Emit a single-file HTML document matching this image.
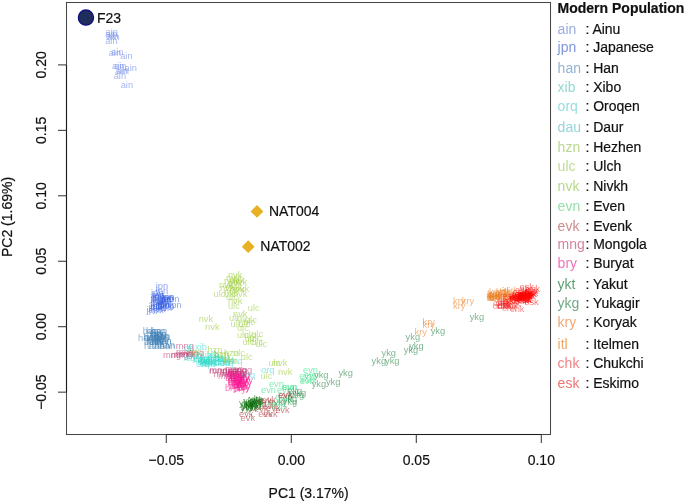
<!DOCTYPE html><html><head><meta charset="utf-8"><style>
html,body{margin:0;padding:0;background:#fff;width:685px;height:503px;overflow:hidden}
svg{display:block;filter:blur(0.35px);font-family:"Liberation Sans",sans-serif;fill:#111}
.t{font-size:14.00px;stroke:#111;stroke-width:0.2px}
.p{font-size:9.3px}
</style></head><body>
<svg width="685" height="503" viewBox="0 0 685 503">
<g class="p">
<text x="105.6" y="35.0" fill="rgba(100,130,232,0.58)">ain</text>
<text x="105.2" y="36.8" fill="rgba(100,130,232,0.58)">ain</text>
<text x="106.0" y="39.2" fill="rgba(100,130,232,0.58)">ain</text>
<text x="107.2" y="39.6" fill="rgba(100,130,232,0.58)">ain</text>
<text x="105.2" y="44.1" fill="rgba(100,130,232,0.58)">ain</text>
<text x="108.7" y="55.6" fill="rgba(100,130,232,0.58)">ain</text>
<text x="111.0" y="55.4" fill="rgba(100,130,232,0.58)">ain</text>
<text x="120.2" y="59.4" fill="rgba(100,130,232,0.58)">ain</text>
<text x="112.0" y="69.1" fill="rgba(100,130,232,0.58)">ain</text>
<text x="114.0" y="69.3" fill="rgba(100,130,232,0.58)">ain</text>
<text x="124.5" y="70.9" fill="rgba(100,130,232,0.58)">ain</text>
<text x="115.1" y="74.0" fill="rgba(100,130,232,0.58)">ain</text>
<text x="116.5" y="73.7" fill="rgba(100,130,232,0.58)">ain</text>
<text x="113.7" y="79.2" fill="rgba(100,130,232,0.58)">ain</text>
<text x="120.7" y="87.6" fill="rgba(100,130,232,0.58)">ain</text>
<text x="155.7" y="288.7" fill="rgba(55,95,225,0.58)">jpn</text>
<text x="155.7" y="293.9" fill="rgba(55,95,225,0.58)">jpn</text>
<text x="151.0" y="295.9" fill="rgba(55,95,225,0.58)">jpn</text>
<text x="151.7" y="298.3" fill="rgba(55,95,225,0.58)">jpn</text>
<text x="150.6" y="301.0" fill="rgba(55,95,225,0.58)">jpn</text>
<text x="152.5" y="299.9" fill="rgba(55,95,225,0.58)">jpn</text>
<text x="162.1" y="299.9" fill="rgba(55,95,225,0.58)">jpn</text>
<text x="166.9" y="302.3" fill="rgba(55,95,225,0.58)">jpn</text>
<text x="169.2" y="308.2" fill="rgba(55,95,225,0.58)">jpn</text>
<text x="151.0" y="305.0" fill="rgba(55,95,225,0.58)">jpn</text>
<text x="157.3" y="306.6" fill="rgba(55,95,225,0.58)">jpn</text>
<text x="150.2" y="307.4" fill="rgba(55,95,225,0.58)">jpn</text>
<text x="146.6" y="313.0" fill="rgba(55,95,225,0.58)">jpn</text>
<text x="153.3" y="312.2" fill="rgba(55,95,225,0.58)">jpn</text>
<text x="159.7" y="310.6" fill="rgba(55,95,225,0.58)">jpn</text>
<text x="162.1" y="308.6" fill="rgba(55,95,225,0.58)">jpn</text>
<text x="158.9" y="303.4" fill="rgba(55,95,225,0.58)">jpn</text>
<text x="154.1" y="304.2" fill="rgba(55,95,225,0.58)">jpn</text>
<text x="156.0" y="301.5" fill="rgba(55,95,225,0.58)">jpn</text>
<text x="160.5" y="305.5" fill="rgba(55,95,225,0.58)">jpn</text>
<text x="148.5" y="310.0" fill="rgba(55,95,225,0.58)">jpn</text>
<text x="155.5" y="309.0" fill="rgba(55,95,225,0.58)">jpn</text>
<text x="142.7" y="333.9" fill="rgba(60,125,180,0.58)">han</text>
<text x="146.0" y="333.7" fill="rgba(60,125,180,0.58)">han</text>
<text x="150.5" y="334.2" fill="rgba(60,125,180,0.58)">han</text>
<text x="151.7" y="334.0" fill="rgba(60,125,180,0.58)">han</text>
<text x="138.0" y="340.8" fill="rgba(60,125,180,0.58)">han</text>
<text x="143.3" y="340.2" fill="rgba(60,125,180,0.58)">han</text>
<text x="150.0" y="339.7" fill="rgba(60,125,180,0.58)">han</text>
<text x="154.5" y="340.4" fill="rgba(60,125,180,0.58)">han</text>
<text x="154.7" y="339.0" fill="rgba(60,125,180,0.58)">han</text>
<text x="143.9" y="344.7" fill="rgba(60,125,180,0.58)">han</text>
<text x="148.0" y="344.2" fill="rgba(60,125,180,0.58)">han</text>
<text x="152.0" y="345.2" fill="rgba(60,125,180,0.58)">han</text>
<text x="156.0" y="344.4" fill="rgba(60,125,180,0.58)">han</text>
<text x="147.5" y="342.2" fill="rgba(60,125,180,0.58)">han</text>
<text x="143.9" y="349.4" fill="rgba(60,125,180,0.58)">han</text>
<text x="148.7" y="349.2" fill="rgba(60,125,180,0.58)">han</text>
<text x="154.7" y="349.4" fill="rgba(60,125,180,0.58)">han</text>
<text x="160.0" y="348.8" fill="rgba(60,125,180,0.58)">han</text>
<text x="159.5" y="347.7" fill="rgba(60,125,180,0.58)">han</text>
<text x="151.0" y="337.2" fill="rgba(60,125,180,0.58)">han</text>
<text x="175.8" y="349.0" fill="rgba(185,45,105,0.58)">mng</text>
<text x="163.0" y="358.3" fill="rgba(185,45,105,0.58)">mng</text>
<text x="170.7" y="357.5" fill="rgba(185,45,105,0.58)">mng</text>
<text x="176.1" y="355.3" fill="rgba(185,45,105,0.58)">mng</text>
<text x="174.9" y="357.1" fill="rgba(185,45,105,0.58)">mng</text>
<text x="180.0" y="357.0" fill="rgba(185,45,105,0.58)">mng</text>
<text x="186.0" y="356.0" fill="rgba(185,45,105,0.58)">mng</text>
<text x="209.5" y="372.9" fill="rgba(185,45,105,0.58)">mng</text>
<text x="224.9" y="372.4" fill="rgba(185,45,105,0.58)">mng</text>
<text x="229.0" y="374.0" fill="rgba(185,45,105,0.58)">mng</text>
<text x="229.0" y="373.0" fill="rgba(185,45,105,0.58)">mng</text>
<text x="228.0" y="376.0" fill="rgba(185,45,105,0.58)">mng</text>
<text x="217.9" y="378.8" fill="rgba(185,45,105,0.58)">mng</text>
<text x="227.0" y="378.0" fill="rgba(185,45,105,0.58)">mng</text>
<text x="232.0" y="377.5" fill="rgba(185,45,105,0.58)">mng</text>
<text x="209.0" y="373.5" fill="rgba(185,45,105,0.58)">mng</text>
<text x="195.1" y="349.9" fill="rgba(50,218,200,0.58)">xib</text>
<text x="183.2" y="360.7" fill="rgba(50,218,200,0.58)">xib</text>
<text x="190.5" y="358.5" fill="rgba(50,218,200,0.58)">xib</text>
<text x="197.5" y="361.8" fill="rgba(45,215,200,0.58)">dau</text>
<text x="201.5" y="365.8" fill="rgba(45,215,200,0.58)">dau</text>
<text x="205.0" y="364.9" fill="rgba(45,215,200,0.58)">dau</text>
<text x="211.0" y="362.4" fill="rgba(45,215,200,0.58)">dau</text>
<text x="193.0" y="362.0" fill="rgba(45,215,200,0.58)">dau</text>
<text x="207.5" y="359.5" fill="rgba(45,215,200,0.58)">dau</text>
<text x="214.0" y="360.5" fill="rgba(45,215,200,0.58)">dau</text>
<text x="200.0" y="357.5" fill="rgba(50,218,200,0.58)">xib</text>
<text x="218.0" y="362.0" fill="rgba(45,215,200,0.58)">dau</text>
<text x="228.9" y="364.4" fill="rgba(55,212,225,0.58)">orq</text>
<text x="241.8" y="377.8" fill="rgba(55,212,225,0.58)">orq</text>
<text x="261.0" y="372.9" fill="rgba(55,212,225,0.58)">orq</text>
<text x="196.0" y="367.0" fill="rgba(55,212,225,0.58)">orq</text>
<text x="220.0" y="366.0" fill="rgba(55,212,225,0.58)">orq</text>
<text x="207.4" y="353.1" fill="rgba(150,200,50,0.58)">hzn</text>
<text x="213.4" y="357.1" fill="rgba(150,200,50,0.58)">hzn</text>
<text x="214.4" y="358.4" fill="rgba(150,200,50,0.58)">hzn</text>
<text x="188.0" y="355.3" fill="rgba(150,200,50,0.58)">hzn</text>
<text x="223.9" y="355.5" fill="rgba(150,200,50,0.58)">hzn</text>
<text x="222.9" y="363.9" fill="rgba(150,200,50,0.58)">hzn</text>
<text x="222.9" y="363.4" fill="rgba(154,205,60,0.58)">ulc</text>
<text x="240.8" y="360.0" fill="rgba(154,205,60,0.58)">ulc</text>
<text x="233.0" y="355.7" fill="rgba(154,205,60,0.58)">ulc</text>
<text x="227.9" y="277.9" fill="rgba(150,200,45,0.58)">nvk</text>
<text x="225.9" y="281.4" fill="rgba(150,200,45,0.58)">nvk</text>
<text x="229.9" y="283.4" fill="rgba(150,200,45,0.58)">nvk</text>
<text x="218.9" y="287.9" fill="rgba(150,200,45,0.58)">nvk</text>
<text x="227.9" y="286.4" fill="rgba(150,200,45,0.58)">nvk</text>
<text x="232.9" y="284.9" fill="rgba(150,200,45,0.58)">nvk</text>
<text x="219.9" y="290.8" fill="rgba(150,200,45,0.58)">nvk</text>
<text x="234.8" y="292.3" fill="rgba(150,200,45,0.58)">nvk</text>
<text x="223.9" y="295.3" fill="rgba(150,200,45,0.58)">nvk</text>
<text x="232.9" y="297.3" fill="rgba(150,200,45,0.58)">nvk</text>
<text x="227.9" y="304.3" fill="rgba(150,200,45,0.58)">nvk</text>
<text x="226.0" y="289.5" fill="rgba(150,200,45,0.58)">nvk</text>
<text x="230.0" y="292.0" fill="rgba(150,200,45,0.58)">nvk</text>
<text x="224.0" y="284.0" fill="rgba(150,200,45,0.58)">nvk</text>
<text x="213.5" y="297.3" fill="rgba(154,205,60,0.58)">ulc</text>
<text x="223.9" y="297.0" fill="rgba(154,205,60,0.58)">ulc</text>
<text x="225.9" y="299.8" fill="rgba(154,205,60,0.58)">ulc</text>
<text x="227.9" y="308.7" fill="rgba(154,205,60,0.58)">ulc</text>
<text x="247.8" y="311.2" fill="rgba(154,205,60,0.58)">ulc</text>
<text x="198.7" y="321.7" fill="rgba(150,200,45,0.58)">nvk</text>
<text x="205.1" y="330.0" fill="rgba(150,200,45,0.58)">nvk</text>
<text x="233.0" y="316.8" fill="rgba(150,200,45,0.58)">nvk</text>
<text x="229.0" y="321.1" fill="rgba(154,205,60,0.58)">ulc</text>
<text x="236.9" y="321.9" fill="rgba(154,205,60,0.58)">ulc</text>
<text x="244.9" y="322.7" fill="rgba(154,205,60,0.58)">ulc</text>
<text x="230.6" y="326.7" fill="rgba(154,205,60,0.58)">ulc</text>
<text x="238.5" y="326.7" fill="rgba(154,205,60,0.58)">ulc</text>
<text x="243.3" y="325.1" fill="rgba(154,205,60,0.58)">ulc</text>
<text x="236.9" y="330.7" fill="rgba(154,205,60,0.58)">ulc</text>
<text x="236.9" y="337.8" fill="rgba(154,205,60,0.58)">ulc</text>
<text x="243.7" y="337.8" fill="rgba(154,205,60,0.58)">ulc</text>
<text x="251.2" y="336.6" fill="rgba(154,205,60,0.58)">ulc</text>
<text x="244.5" y="341.8" fill="rgba(154,205,60,0.58)">ulc</text>
<text x="249.6" y="341.4" fill="rgba(154,205,60,0.58)">ulc</text>
<text x="242.5" y="345.0" fill="rgba(154,205,60,0.58)">ulc</text>
<text x="251.2" y="345.0" fill="rgba(154,205,60,0.58)">ulc</text>
<text x="255.2" y="346.6" fill="rgba(154,205,60,0.58)">ulc</text>
<text x="268.4" y="365.9" fill="rgba(154,205,60,0.58)">ulc</text>
<text x="272.9" y="365.9" fill="rgba(150,200,45,0.58)">nvk</text>
<text x="277.9" y="375.4" fill="rgba(150,200,45,0.58)">nvk</text>
<text x="260.5" y="379.4" fill="rgba(154,205,60,0.58)">ulc</text>
<text x="224.9" y="391.3" fill="rgba(250,20,145,0.58)">bry</text>
<text x="227.9" y="382.8" fill="rgba(250,20,145,0.58)">bry</text>
<text x="231.0" y="386.0" fill="rgba(250,20,145,0.58)">bry</text>
<text x="234.0" y="384.5" fill="rgba(250,20,145,0.58)">bry</text>
<text x="236.0" y="388.0" fill="rgba(250,20,145,0.58)">bry</text>
<text x="239.0" y="386.0" fill="rgba(250,20,145,0.58)">bry</text>
<text x="229.0" y="389.0" fill="rgba(250,20,145,0.58)">bry</text>
<text x="233.0" y="392.0" fill="rgba(250,20,145,0.58)">bry</text>
<text x="240.0" y="383.0" fill="rgba(250,20,145,0.58)">bry</text>
<text x="237.5" y="389.5" fill="rgba(250,20,145,0.58)">bry</text>
<text x="237.0" y="380.0" fill="rgba(250,20,145,0.58)">bry</text>
<text x="230.5" y="380.5" fill="rgba(250,20,145,0.58)">bry</text>
<text x="268.9" y="387.3" fill="rgba(40,220,125,0.58)">evn</text>
<text x="281.8" y="389.8" fill="rgba(40,220,125,0.58)">evn</text>
<text x="261.0" y="393.3" fill="rgba(40,220,125,0.58)">evn</text>
<text x="276.9" y="393.3" fill="rgba(40,220,125,0.58)">evn</text>
<text x="282.6" y="390.0" fill="rgba(40,220,125,0.58)">evn</text>
<text x="303.0" y="373.3" fill="rgba(40,220,125,0.58)">evn</text>
<text x="299.2" y="379.3" fill="rgba(40,220,125,0.58)">evn</text>
<text x="299.7" y="384.2" fill="rgba(40,220,125,0.58)">evn</text>
<text x="301.0" y="382.5" fill="rgba(40,220,125,0.58)">evn</text>
<text x="303.9" y="377.8" fill="rgba(40,220,125,0.58)">evn</text>
<text x="275.0" y="400.0" fill="rgba(40,220,125,0.58)">evn</text>
<text x="278.0" y="403.0" fill="rgba(40,220,125,0.58)">evn</text>
<text x="239.0" y="406.0" fill="rgba(0,105,0,0.58)">ykt</text>
<text x="241.4" y="408.5" fill="rgba(0,105,0,0.58)">ykt</text>
<text x="244.6" y="405.7" fill="rgba(0,105,0,0.58)">ykt</text>
<text x="248.7" y="405.3" fill="rgba(0,105,0,0.58)">ykt</text>
<text x="250.3" y="409.3" fill="rgba(0,105,0,0.58)">ykt</text>
<text x="243.0" y="403.5" fill="rgba(0,105,0,0.58)">ykt</text>
<text x="246.5" y="407.5" fill="rgba(0,105,0,0.58)">ykt</text>
<text x="252.0" y="404.0" fill="rgba(0,105,0,0.58)">ykt</text>
<text x="240.5" y="411.0" fill="rgba(0,105,0,0.58)">ykt</text>
<text x="245.0" y="410.5" fill="rgba(0,105,0,0.58)">ykt</text>
<text x="249.0" y="402.0" fill="rgba(0,105,0,0.58)">ykt</text>
<text x="255.0" y="407.0" fill="rgba(0,105,0,0.58)">ykt</text>
<text x="257.5" y="404.0" fill="rgba(170,50,55,0.58)">evk</text>
<text x="261.5" y="402.9" fill="rgba(170,50,55,0.58)">evk</text>
<text x="268.7" y="404.5" fill="rgba(170,50,55,0.58)">evk</text>
<text x="275.2" y="412.9" fill="rgba(170,50,55,0.58)">evk</text>
<text x="258.3" y="417.3" fill="rgba(170,50,55,0.58)">evk</text>
<text x="240.6" y="420.5" fill="rgba(170,50,55,0.58)">evk</text>
<text x="239.0" y="417.3" fill="rgba(170,50,55,0.58)">evk</text>
<text x="263.1" y="416.5" fill="rgba(170,50,55,0.58)">evk</text>
<text x="278.4" y="398.0" fill="rgba(170,50,55,0.58)">evk</text>
<text x="277.9" y="397.7" fill="rgba(170,50,55,0.58)">evk</text>
<text x="262.0" y="409.0" fill="rgba(170,50,55,0.58)">evk</text>
<text x="266.0" y="411.0" fill="rgba(170,50,55,0.58)">evk</text>
<text x="254.0" y="412.0" fill="rgba(170,50,55,0.58)">evk</text>
<text x="287.8" y="393.8" fill="rgba(30,125,60,0.58)">ykg</text>
<text x="291.8" y="396.3" fill="rgba(30,125,60,0.58)">ykg</text>
<text x="282.8" y="401.7" fill="rgba(30,125,60,0.58)">ykg</text>
<text x="289.6" y="398.1" fill="rgba(30,125,60,0.58)">ykg</text>
<text x="282.6" y="404.5" fill="rgba(30,125,60,0.58)">ykg</text>
<text x="314.0" y="377.8" fill="rgba(30,125,60,0.58)">ykg</text>
<text x="338.4" y="375.9" fill="rgba(30,125,60,0.58)">ykg</text>
<text x="311.7" y="387.0" fill="rgba(30,125,60,0.58)">ykg</text>
<text x="325.9" y="385.0" fill="rgba(30,125,60,0.58)">ykg</text>
<text x="371.6" y="364.1" fill="rgba(30,125,60,0.58)">ykg</text>
<text x="385.0" y="364.1" fill="rgba(30,125,60,0.58)">ykg</text>
<text x="381.5" y="356.0" fill="rgba(30,125,60,0.58)">ykg</text>
<text x="403.8" y="352.5" fill="rgba(30,125,60,0.58)">ykg</text>
<text x="409.2" y="348.9" fill="rgba(30,125,60,0.58)">ykg</text>
<text x="405.6" y="340.0" fill="rgba(30,125,60,0.58)">ykg</text>
<text x="430.7" y="333.7" fill="rgba(30,125,60,0.58)">ykg</text>
<text x="469.7" y="320.0" fill="rgba(30,125,60,0.58)">ykg</text>
<text x="422.6" y="325.0" fill="rgba(238,125,35,0.58)">kry</text>
<text x="422.6" y="327.7" fill="rgba(238,125,35,0.58)">kry</text>
<text x="414.6" y="334.9" fill="rgba(238,125,35,0.58)">kry</text>
<text x="453.0" y="304.3" fill="rgba(238,125,35,0.58)">kry</text>
<text x="461.8" y="304.3" fill="rgba(238,125,35,0.58)">kry</text>
<text x="453.0" y="308.7" fill="rgba(238,125,35,0.58)">kry</text>
<text x="494.6" y="298.9" fill="rgba(238,125,35,0.58)">kry</text>
<text x="503.6" y="298.3" fill="rgba(238,125,35,0.58)">kry</text>
<text x="495.6" y="299.1" fill="rgba(238,125,35,0.58)">kry</text>
<text x="489.5" y="298.6" fill="rgba(238,125,35,0.58)">kry</text>
<text x="498.0" y="300.6" fill="rgba(238,125,35,0.58)">kry</text>
<text x="487.8" y="297.1" fill="rgba(238,125,35,0.58)">kry</text>
<text x="487.7" y="300.7" fill="rgba(238,125,35,0.58)">kry</text>
<text x="499.2" y="295.3" fill="rgba(238,125,35,0.58)">kry</text>
<text x="504.7" y="301.8" fill="rgba(238,125,35,0.58)">kry</text>
<text x="498.4" y="299.3" fill="rgba(238,125,35,0.58)">kry</text>
<text x="489.0" y="295.1" fill="rgba(238,125,35,0.58)">kry</text>
<text x="496.0" y="295.4" fill="rgba(238,125,35,0.58)">kry</text>
<text x="492.6" y="299.6" fill="rgba(232,128,30,0.58)">itl</text>
<text x="495.3" y="296.0" fill="rgba(232,128,30,0.58)">itl</text>
<text x="486.2" y="297.6" fill="rgba(232,128,30,0.58)">itl</text>
<text x="489.8" y="300.7" fill="rgba(232,128,30,0.58)">itl</text>
<text x="495.7" y="299.2" fill="rgba(232,128,30,0.58)">itl</text>
<text x="493.8" y="299.6" fill="rgba(232,128,30,0.58)">itl</text>
<text x="488.0" y="298.1" fill="rgba(232,128,30,0.58)">itl</text>
<text x="488.3" y="301.3" fill="rgba(232,128,30,0.58)">itl</text>
<text x="486.8" y="300.7" fill="rgba(232,128,30,0.58)">itl</text>
<text x="487.0" y="299.8" fill="rgba(232,128,30,0.58)">itl</text>
<text x="503.1" y="297.1" fill="rgba(232,128,30,0.58)">itl</text>
<text x="508.2" y="298.1" fill="rgba(232,128,30,0.58)">itl</text>
<text x="502.2" y="294.4" fill="rgba(232,128,30,0.58)">itl</text>
<text x="501.8" y="294.4" fill="rgba(232,128,30,0.58)">itl</text>
<text x="508.8" y="293.8" fill="rgba(232,128,30,0.58)">itl</text>
<text x="492.8" y="308.9" fill="rgba(240,50,50,0.58)">chk</text>
<text x="502.1" y="310.6" fill="rgba(240,50,50,0.58)">chk</text>
<text x="495.6" y="305.8" fill="rgba(240,50,50,0.58)">chk</text>
<text x="503.5" y="308.6" fill="rgba(240,50,50,0.58)">chk</text>
<text x="496.2" y="308.8" fill="rgba(240,50,50,0.58)">chk</text>
<text x="497.7" y="309.4" fill="rgba(240,50,50,0.58)">chk</text>
<text x="493.0" y="305.6" fill="rgba(240,50,50,0.58)">chk</text>
<text x="506.3" y="306.5" fill="rgba(240,50,50,0.58)">chk</text>
<text x="517.5" y="299.2" fill="rgba(255,0,0,0.58)">esk</text>
<text x="516.1" y="297.5" fill="rgba(255,0,0,0.58)">esk</text>
<text x="517.8" y="299.2" fill="rgba(255,0,0,0.58)">esk</text>
<text x="524.2" y="294.2" fill="rgba(255,0,0,0.58)">esk</text>
<text x="516.9" y="302.6" fill="rgba(255,0,0,0.58)">esk</text>
<text x="515.0" y="297.1" fill="rgba(255,0,0,0.58)">esk</text>
<text x="516.1" y="302.1" fill="rgba(255,0,0,0.58)">esk</text>
<text x="525.4" y="292.0" fill="rgba(255,0,0,0.58)">esk</text>
<text x="518.0" y="296.8" fill="rgba(255,0,0,0.58)">esk</text>
<text x="524.0" y="296.0" fill="rgba(255,0,0,0.58)">esk</text>
<text x="517.4" y="303.1" fill="rgba(255,0,0,0.58)">esk</text>
<text x="514.0" y="300.7" fill="rgba(255,0,0,0.58)">esk</text>
<text x="510.4" y="299.5" fill="rgba(255,0,0,0.58)">esk</text>
<text x="501.9" y="299.3" fill="rgba(255,0,0,0.58)">esk</text>
<text x="512.1" y="297.6" fill="rgba(255,0,0,0.58)">esk</text>
<text x="499.7" y="303.7" fill="rgba(255,0,0,0.58)">esk</text>
<text x="520.3" y="298.9" fill="rgba(255,0,0,0.58)">esk</text>
<text x="524.3" y="305.1" fill="rgba(255,0,0,0.58)">esk</text>
<text x="512.4" y="295.2" fill="rgba(255,0,0,0.58)">esk</text>
<text x="514.6" y="303.9" fill="rgba(255,0,0,0.58)">esk</text>
<text x="518.9" y="297.9" fill="rgba(255,0,0,0.58)">esk</text>
<text x="518.1" y="299.9" fill="rgba(255,0,0,0.58)">esk</text>
<text x="503.3" y="303.7" fill="rgba(255,0,0,0.58)">esk</text>
<text x="509.8" y="299.8" fill="rgba(255,0,0,0.58)">esk</text>
<text x="512.1" y="300.4" fill="rgba(255,0,0,0.58)">esk</text>
<text x="522.7" y="297.1" fill="rgba(255,0,0,0.58)">esk</text>
<text x="517.1" y="302.4" fill="rgba(255,0,0,0.58)">esk</text>
<text x="519.3" y="296.2" fill="rgba(255,0,0,0.58)">esk</text>
<text x="521.7" y="296.6" fill="rgba(255,0,0,0.58)">esk</text>
<text x="513.9" y="300.6" fill="rgba(255,0,0,0.58)">esk</text>
<text x="513.1" y="300.5" fill="rgba(255,0,0,0.58)">esk</text>
<text x="509.7" y="301.2" fill="rgba(255,0,0,0.58)">esk</text>
<text x="516.2" y="296.7" fill="rgba(255,0,0,0.58)">esk</text>
<text x="520.4" y="297.9" fill="rgba(255,0,0,0.58)">esk</text>
<text x="508.5" y="301.3" fill="rgba(255,0,0,0.58)">esk</text>
<text x="518.6" y="298.9" fill="rgba(255,0,0,0.58)">esk</text>
<text x="509.4" y="299.4" fill="rgba(255,0,0,0.58)">esk</text>
<text x="518.1" y="294.5" fill="rgba(255,0,0,0.58)">esk</text>
<text x="514.6" y="297.4" fill="rgba(255,0,0,0.58)">esk</text>
<text x="517.3" y="299.6" fill="rgba(255,0,0,0.58)">esk</text>
<text x="519.5" y="289.7" fill="rgba(255,0,0,0.58)">esk</text>
<text x="515.0" y="292.5" fill="rgba(255,0,0,0.58)">esk</text>
<text x="510" y="311.5" fill="rgba(240,50,50,0.58)">chk</text>
<text x="497" y="307.5" fill="rgba(255,0,0,0.58)">esk</text>
<text x="146.0" y="343.8" fill="rgba(60,125,180,0.58)">han</text>
<text x="151.6" y="341.5" fill="rgba(60,125,180,0.58)">han</text>
<text x="146.6" y="344.9" fill="rgba(60,125,180,0.58)">han</text>
<text x="153.7" y="341.8" fill="rgba(60,125,180,0.58)">han</text>
<text x="150.1" y="338.8" fill="rgba(60,125,180,0.58)">han</text>
<text x="144.0" y="340.3" fill="rgba(60,125,180,0.58)">han</text>
<text x="151.0" y="337.0" fill="rgba(60,125,180,0.58)">han</text>
<text x="153.5" y="338.8" fill="rgba(60,125,180,0.58)">han</text>
<text x="146.8" y="336.7" fill="rgba(60,125,180,0.58)">han</text>
<text x="156.0" y="344.3" fill="rgba(60,125,180,0.58)">han</text>
<text x="161.5" y="299.5" fill="rgba(55,95,225,0.58)">jpn</text>
<text x="150.3" y="309.0" fill="rgba(55,95,225,0.58)">jpn</text>
<text x="152.2" y="299.3" fill="rgba(55,95,225,0.58)">jpn</text>
<text x="157.8" y="301.8" fill="rgba(55,95,225,0.58)">jpn</text>
<text x="160.7" y="300.5" fill="rgba(55,95,225,0.58)">jpn</text>
<text x="161.5" y="301.5" fill="rgba(55,95,225,0.58)">jpn</text>
<text x="157.2" y="308.3" fill="rgba(55,95,225,0.58)">jpn</text>
<text x="158.2" y="308.2" fill="rgba(55,95,225,0.58)">jpn</text>
<text x="237.0" y="391.4" fill="rgba(250,20,145,0.58)">bry</text>
<text x="236.6" y="381.0" fill="rgba(250,20,145,0.58)">bry</text>
<text x="232.7" y="385.1" fill="rgba(250,20,145,0.58)">bry</text>
<text x="231.9" y="381.6" fill="rgba(250,20,145,0.58)">bry</text>
<text x="227.5" y="385.3" fill="rgba(250,20,145,0.58)">bry</text>
<text x="227.9" y="385.5" fill="rgba(250,20,145,0.58)">bry</text>
<text x="225.3" y="381.0" fill="rgba(250,20,145,0.58)">bry</text>
<text x="234.2" y="385.1" fill="rgba(250,20,145,0.58)">bry</text>
<text x="231.7" y="388.8" fill="rgba(250,20,145,0.58)">bry</text>
<text x="229.7" y="380.7" fill="rgba(250,20,145,0.58)">bry</text>
<text x="235.2" y="387.1" fill="rgba(250,20,145,0.58)">bry</text>
<text x="233.6" y="387.5" fill="rgba(250,20,145,0.58)">bry</text>
<text x="237.6" y="384.4" fill="rgba(250,20,145,0.58)">bry</text>
<text x="234.9" y="384.4" fill="rgba(250,20,145,0.58)">bry</text>
<text x="214.2" y="365.6" fill="rgba(45,215,200,0.58)">dau</text>
<text x="199.9" y="367.0" fill="rgba(45,215,200,0.58)">dau</text>
<text x="200.2" y="364.0" fill="rgba(45,215,200,0.58)">dau</text>
<text x="197.5" y="364.8" fill="rgba(45,215,200,0.58)">dau</text>
<text x="199.1" y="364.4" fill="rgba(45,215,200,0.58)">dau</text>
<text x="214.6" y="364.9" fill="rgba(45,215,200,0.58)">dau</text>
<text x="198.8" y="362.5" fill="rgba(50,218,200,0.58)">xib</text>
<text x="207.2" y="357.5" fill="rgba(50,218,200,0.58)">xib</text>
<text x="207.7" y="360.5" fill="rgba(50,218,200,0.58)">xib</text>
<text x="192.8" y="362.7" fill="rgba(50,218,200,0.58)">xib</text>
<text x="250.5" y="404.4" fill="rgba(0,105,0,0.58)">ykt</text>
<text x="242.9" y="407.2" fill="rgba(0,105,0,0.58)">ykt</text>
<text x="240.8" y="408.4" fill="rgba(0,105,0,0.58)">ykt</text>
<text x="250.7" y="403.3" fill="rgba(0,105,0,0.58)">ykt</text>
<text x="249.6" y="406.5" fill="rgba(0,105,0,0.58)">ykt</text>
<text x="248.9" y="409.7" fill="rgba(0,105,0,0.58)">ykt</text>
<text x="226.9" y="376.2" fill="rgba(185,45,105,0.58)">mng</text>
<text x="234.0" y="373.2" fill="rgba(185,45,105,0.58)">mng</text>
<text x="213.5" y="376.9" fill="rgba(185,45,105,0.58)">mng</text>
<text x="219.7" y="374.2" fill="rgba(185,45,105,0.58)">mng</text>
<text x="227.2" y="376.4" fill="rgba(250,20,145,0.58)">bry</text>
<text x="232.1" y="378.7" fill="rgba(250,20,145,0.58)">bry</text>
<text x="228.8" y="376.4" fill="rgba(250,20,145,0.58)">bry</text>
<text x="230.0" y="379.0" fill="rgba(250,20,145,0.58)">bry</text>
<text x="228.9" y="379.0" fill="rgba(250,20,145,0.58)">bry</text>
<text x="268.0" y="406.0" fill="rgba(40,220,125,0.58)">evn</text>
<text x="271.0" y="408.5" fill="rgba(40,220,125,0.58)">evn</text>
<text x="182.5" y="350.5" fill="rgba(50,218,200,0.58)">xib</text>
</g>
<rect x="66.5" y="2.5" width="484" height="432" fill="none" stroke="#484848" stroke-width="1.05"/>
<line x1="66.5" y1="64.9" x2="66.5" y2="392.15" stroke="#1c1c1c" stroke-width="1.1"/>
<line x1="166.3" y1="434.5" x2="541.3" y2="434.5" stroke="#1c1c1c" stroke-width="1.1"/>
<line x1="58" y1="64.9" x2="66.5" y2="64.9" stroke="#383838" stroke-width="1.05"/>
<text class="t" text-anchor="middle" transform="translate(46.4,64.9) rotate(-90) scale(1,1.05)">0.20</text>
<line x1="58" y1="130.35" x2="66.5" y2="130.35" stroke="#383838" stroke-width="1.05"/>
<text class="t" text-anchor="middle" transform="translate(46.4,130.35) rotate(-90) scale(1,1.05)">0.15</text>
<line x1="58" y1="195.8" x2="66.5" y2="195.8" stroke="#383838" stroke-width="1.05"/>
<text class="t" text-anchor="middle" transform="translate(46.4,195.8) rotate(-90) scale(1,1.05)">0.10</text>
<line x1="58" y1="261.25" x2="66.5" y2="261.25" stroke="#383838" stroke-width="1.05"/>
<text class="t" text-anchor="middle" transform="translate(46.4,261.25) rotate(-90) scale(1,1.05)">0.05</text>
<line x1="58" y1="326.7" x2="66.5" y2="326.7" stroke="#383838" stroke-width="1.05"/>
<text class="t" text-anchor="middle" transform="translate(46.4,326.7) rotate(-90) scale(1,1.05)">0.00</text>
<line x1="58" y1="392.15" x2="66.5" y2="392.15" stroke="#383838" stroke-width="1.05"/>
<text class="t" text-anchor="middle" transform="translate(46.4,392.15) rotate(-90) scale(1,1.05)">−0.05</text>
<line x1="166.3" y1="434.5" x2="166.3" y2="443" stroke="#383838" stroke-width="1.05"/>
<text class="t" text-anchor="middle" transform="translate(166.3,464.6) scale(1,1.05)">−0.05</text>
<line x1="291.3" y1="434.5" x2="291.3" y2="443" stroke="#383838" stroke-width="1.05"/>
<text class="t" text-anchor="middle" transform="translate(291.3,464.6) scale(1,1.05)">0.00</text>
<line x1="416.3" y1="434.5" x2="416.3" y2="443" stroke="#383838" stroke-width="1.05"/>
<text class="t" text-anchor="middle" transform="translate(416.3,464.6) scale(1,1.05)">0.05</text>
<line x1="541.3" y1="434.5" x2="541.3" y2="443" stroke="#383838" stroke-width="1.05"/>
<text class="t" text-anchor="middle" transform="translate(541.3,464.6) scale(1,1.05)">0.10</text>
<text class="t" text-anchor="middle" transform="translate(308.6,498) scale(1,1.05)">PC1 (3.17%)</text>
<text class="t" text-anchor="middle" transform="translate(12.4,217) rotate(-90) scale(1,1.05)">PC2 (1.69%)</text>
<circle cx="85.95" cy="17.6" r="7.6" fill="#1f2d5c" stroke="#12127e" stroke-width="1.3"/>
<text class="t" transform="translate(97,22.9) scale(1,1.05)">F23</text>
<path d="M257 205.0L263.4 211.4L257 217.8L250.6 211.4Z" fill="#e8b023"/>
<text class="t" transform="translate(269,216.2) scale(1,1.05)">NAT004</text>
<path d="M248.2 240.29999999999998L254.6 246.7L248.2 253.1L241.79999999999998 246.7Z" fill="#e8b023"/>
<text class="t" transform="translate(260.3,250.8) scale(1,1.05)">NAT002</text>
<text class="t" transform="translate(557.6,12.9) scale(1,1.05)" font-weight="bold">Modern Population</text>
<text class="t" transform="translate(557.6,34.2) scale(1,1.05)" fill="rgb(155,172,226)" style="stroke:none">ain</text>
<text class="t" transform="translate(585.4,34.2) scale(1,1.05)">: Ainu</text>
<text class="t" transform="translate(557.6,51.95) scale(1,1.05)" fill="rgb(128,150,218)" style="stroke:none">jpn</text>
<text class="t" transform="translate(585.4,51.95) scale(1,1.05)">: Japanese</text>
<text class="t" transform="translate(557.6,73.05) scale(1,1.05)" fill="rgb(148,180,212)" style="stroke:none">han</text>
<text class="t" transform="translate(585.4,73.05) scale(1,1.05)">: Han</text>
<text class="t" transform="translate(557.6,92.15) scale(1,1.05)" fill="rgb(150,218,212)" style="stroke:none">xib</text>
<text class="t" transform="translate(585.4,92.15) scale(1,1.05)">: Xibo</text>
<text class="t" transform="translate(557.6,111.1) scale(1,1.05)" fill="rgb(150,222,224)" style="stroke:none">orq</text>
<text class="t" transform="translate(585.4,111.1) scale(1,1.05)">: Oroqen</text>
<text class="t" transform="translate(557.6,131.9) scale(1,1.05)" fill="rgb(150,212,218)" style="stroke:none">dau</text>
<text class="t" transform="translate(585.4,131.9) scale(1,1.05)">: Daur</text>
<text class="t" transform="translate(557.6,151.65) scale(1,1.05)" fill="rgb(184,216,146)" style="stroke:none">hzn</text>
<text class="t" transform="translate(585.4,151.65) scale(1,1.05)">: Hezhen</text>
<text class="t" transform="translate(557.6,171.1) scale(1,1.05)" fill="rgb(192,222,148)" style="stroke:none">ulc</text>
<text class="t" transform="translate(585.4,171.1) scale(1,1.05)">: Ulch</text>
<text class="t" transform="translate(557.6,191.3) scale(1,1.05)" fill="rgb(184,216,138)" style="stroke:none">nvk</text>
<text class="t" transform="translate(585.4,191.3) scale(1,1.05)">: Nivkh</text>
<text class="t" transform="translate(557.6,210.6) scale(1,1.05)" fill="rgb(150,222,172)" style="stroke:none">evn</text>
<text class="t" transform="translate(585.4,210.6) scale(1,1.05)">: Even</text>
<text class="t" transform="translate(557.6,231.1) scale(1,1.05)" fill="rgb(204,140,140)" style="stroke:none">evk</text>
<text class="t" transform="translate(585.4,231.1) scale(1,1.05)">: Evenk</text>
<text class="t" transform="translate(557.6,249.0) scale(1,1.05)" fill="rgb(212,132,160)" style="stroke:none">mng</text>
<text class="t" transform="translate(585.4,249.0) scale(1,1.05)">: Mongola</text>
<text class="t" transform="translate(557.6,268.3) scale(1,1.05)" fill="rgb(240,116,188)" style="stroke:none">bry</text>
<text class="t" transform="translate(585.4,268.3) scale(1,1.05)">: Buryat</text>
<text class="t" transform="translate(557.6,288.9) scale(1,1.05)" fill="rgb(96,160,118)" style="stroke:none">ykt</text>
<text class="t" transform="translate(585.4,288.9) scale(1,1.05)">: Yakut</text>
<text class="t" transform="translate(557.6,308.2) scale(1,1.05)" fill="rgb(114,170,134)" style="stroke:none">ykg</text>
<text class="t" transform="translate(585.4,308.2) scale(1,1.05)">: Yukagir</text>
<text class="t" transform="translate(557.6,326.65) scale(1,1.05)" fill="rgb(240,168,116)" style="stroke:none">kry</text>
<text class="t" transform="translate(585.4,326.65) scale(1,1.05)">: Koryak</text>
<text class="t" transform="translate(557.6,348.6) scale(1,1.05)" fill="rgb(240,168,100)" style="stroke:none">itl</text>
<text class="t" transform="translate(585.4,348.6) scale(1,1.05)">: Itelmen</text>
<text class="t" transform="translate(557.6,368.3) scale(1,1.05)" fill="rgb(240,132,132)" style="stroke:none">chk</text>
<text class="t" transform="translate(585.4,368.3) scale(1,1.05)">: Chukchi</text>
<text class="t" transform="translate(557.6,387.7) scale(1,1.05)" fill="rgb(240,116,116)" style="stroke:none">esk</text>
<text class="t" transform="translate(585.4,387.7) scale(1,1.05)">: Eskimo</text>
</svg></body></html>
